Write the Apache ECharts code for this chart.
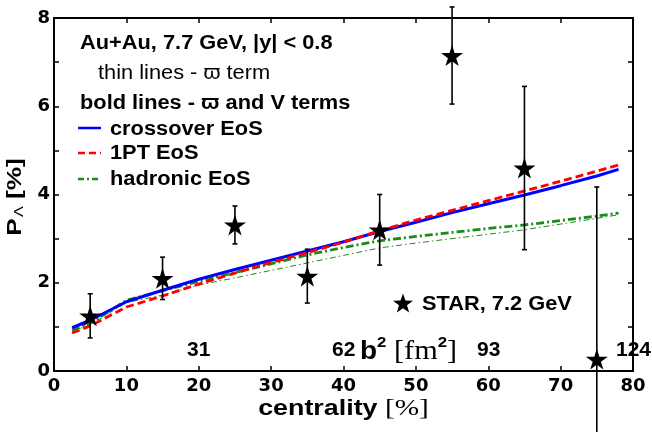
<!DOCTYPE html>
<html>
<head>
<meta charset="utf-8">
<script src="https://cdn.jsdelivr.net/npm/echarts@6/dist/echarts.min.js"></script>
<style>
  html, body { margin: 0; padding: 0; background: #fff; }
  #wrap { position: relative; width: 652px; height: 432px; }
  #chart, #frame { position: absolute; left: 0; top: 0; width: 652px; height: 432px; }
  #frame { pointer-events: none; }
</style>
</head>
<body>
<div id="wrap">
  <div id="chart"></div>
  <div id="frame"></div>
</div>
<script>
// model curves (centrality %, P_Lambda %)
const xCurve       = [2.5, 5, 10, 15, 20, 25, 30, 35, 40, 45, 50, 55, 60, 65, 70, 75, 78];
const crossover    = [0.98, 1.15, 1.57, 1.83, 2.08, 2.3, 2.51, 2.72, 2.93, 3.16, 3.37, 3.59, 3.79, 3.99, 4.2, 4.42, 4.57];
const onePT        = [0.86, 1.02, 1.45, 1.7, 1.97, 2.22, 2.46, 2.68, 2.92, 3.18, 3.42, 3.64, 3.86, 4.08, 4.3, 4.53, 4.67];
const hadronic     = [0.92, 1.08, 1.6, 1.82, 2.03, 2.23, 2.43, 2.63, 2.8, 2.95, 3.05, 3.14, 3.23, 3.31, 3.41, 3.51, 3.58];
const hadronicThin = [0.9, 1.05, 1.55, 1.72, 1.95, 2.11, 2.28, 2.45, 2.62, 2.79, 2.9, 3.0, 3.1, 3.2, 3.33, 3.46, 3.54];

// STAR data, 7.2 GeV
const starX   = [5, 15, 25, 35, 45, 55, 65, 75];
const starY   = [1.25, 2.1, 3.31, 2.15, 3.2, 7.15, 4.6, 0.27];
const starErr = [0.5, 0.48, 0.43, 0.61, 0.8, 1.1, 1.85, 3.9];

// b^2 [fm^2] labels along the bottom
const b2Labels = ['31', '62', '93', '124'];

const X_MAX = 80, Y_MAX = 8;

const pairs = (xs, ys) => xs.map((x, i) => [x, ys[i]]);
const starPath = 'path://M50,0 L61,35 L98,35 L68,57 L79,91 L50,70 L21,91 L32,57 L2,35 L39,35 Z';
const SANS = '"Liberation Sans", Arial, sans-serif';
const SERIF = '"Liberation Serif", "Times New Roman", serif';
const TICKFONT = '"DejaVu Sans", sans-serif';
const SX = 1.09;
const GRID = { left: 54, right: 19, top: 18, bottom: 61 };

function starPts(cx, cy, R) {
  const pts = [];
  for (let i = 0; i < 10; i++) {
    const r = i % 2 === 0 ? R : R * 0.4;
    const a = -Math.PI / 2 + i * Math.PI / 5;
    pts.push([cx + r * Math.cos(a), cy + r * Math.sin(a)]);
  }
  return pts;
}

const label = (x, y, text, font, sx) => ({
  type: 'text', x: x, y: y, scaleX: sx || SX, z: 10,
  style: { text: text, font: font || 'bold 20px ' + SANS, fill: '#000', textVerticalAlign: 'middle' }
});

const legendLine = (y, color, dash) => ({
  type: 'line', shape: { x1: 78, y1: y, x2: 101, y2: y },
  style: { stroke: color, lineWidth: 2.5, lineDash: dash }
});

const axisBase = () => ({
  axisLine: { show: true, onZero: false, lineStyle: { color: '#000', width: 2 } },
  axisTick: { show: true, inside: true, length: 5, lineStyle: { color: '#000', width: 1.5 } },
  splitLine: { show: false }
});

const chart = echarts.init(document.getElementById('chart'));
chart.setOption({
  animation: false,
  grid: GRID,
  xAxis: Object.assign(axisBase(), {
    type: 'value', min: 0, max: X_MAX, interval: 10,
    axisLabel: { color: '#000', fontFamily: TICKFONT, fontWeight: 'bold', fontSize: 18, margin: 6 }
  }),
  yAxis: Object.assign(axisBase(), {
    type: 'value', min: 0, max: Y_MAX, interval: 1,
    axisLabel: {
      color: '#000', fontFamily: TICKFONT, fontWeight: 'bold', fontSize: 18, margin: 4,
      formatter: v => (v % 2 === 0 ? String(v) : '')
    }
  }),
  series: [
    {
      name: 'hadronic thin', type: 'line', data: pairs(xCurve, hadronicThin),
      showSymbol: false, z: 2,
      lineStyle: { color: '#1a8a1a', width: 1, type: [6, 3, 1.5, 3] }
    },
    {
      name: 'hadronic EoS', type: 'line', data: pairs(xCurve, hadronic),
      showSymbol: false, z: 3,
      lineStyle: { color: '#1a8a1a', width: 2.8, type: [8, 3, 2, 3] }
    },
    {
      name: 'crossover EoS', type: 'line', data: pairs(xCurve, crossover),
      showSymbol: false, z: 4,
      lineStyle: { color: '#0000ff', width: 3 }
    },
    {
      name: '1PT EoS', type: 'line', data: pairs(xCurve, onePT),
      showSymbol: false, z: 5,
      lineStyle: { color: '#ff0000', width: 2.8, type: [8, 4] }
    },
    {
      name: 'STAR err', type: 'custom', z: 6,
      data: starX.map((x, i) => [x, starY[i], starErr[i]]),
      renderItem: function (params, api) {
        const x = api.value(0), y = api.value(1), e = api.value(2);
        const top = api.coord([x, y + e]);
        const bot = api.coord([x, y - e]);
        const w = 2.5;
        const st = { stroke: '#000', lineWidth: 1.6 };
        return {
          type: 'group',
          children: [
            { type: 'line', shape: { x1: top[0], y1: top[1], x2: bot[0], y2: bot[1] }, style: st },
            { type: 'line', shape: { x1: top[0] - w, y1: top[1], x2: top[0] + w, y2: top[1] }, style: st },
            { type: 'line', shape: { x1: bot[0] - w, y1: bot[1], x2: bot[0] + w, y2: bot[1] }, style: st }
          ]
        };
      }
    },
    {
      name: 'STAR', type: 'scatter', z: 7,
      data: pairs(starX, starY),
      symbol: starPath, symbolSize: [22, 21],
      itemStyle: { color: '#000', opacity: 1 }
    }
  ],
  graphic: [
    label(80, 43, 'Au+Au, 7.7 GeV, |y| < 0.8'),
    label(98, 73, 'thin lines - \u03d6 term', '20px ' + SANS),
    label(80, 103, 'bold lines - \u03d6 and V terms'),
    legendLine(128, '#0000ff', null),
    legendLine(153, '#ff0000', [7, 4]),
    legendLine(179, '#1a8a1a', [6, 3, 2, 3]),
    label(110, 129, 'crossover EoS'),
    label(110, 153, '1PT EoS'),
    label(110, 179, 'hadronic EoS'),
    { type: 'polygon', shape: { points: starPts(403, 304, 10.5) }, style: { fill: '#000' } },
    label(422, 304, 'STAR, 7.2 GeV'),
    label(187, 350, b2Labels[0], 'bold 21px ' + SANS, 1),
    label(332, 350, b2Labels[1], 'bold 21px ' + SANS, 1),
    {
      type: 'text', x: 360, y: 350, scaleX: 1.12, z: 10,
      style: {
        text: '{b|b}{s|2}{f| [fm}{s|2}{f|]}',
        textVerticalAlign: 'middle',
        rich: {
          b: { font: 'bold 25px ' + SANS, fill: '#000', lineHeight: 30, verticalAlign: 'bottom' },
          s: { font: 'bold 15px ' + SANS, fill: '#000', lineHeight: 15, verticalAlign: 'top' },
          f: { font: '27px ' + SERIF, fill: '#000', lineHeight: 30, verticalAlign: 'bottom' }
        }
      }
    },
    label(477, 350, b2Labels[2], 'bold 21px ' + SANS, 1),
    label(616, 350, b2Labels[3], 'bold 21px ' + SANS, 1),
    {
      type: 'text', x: 343.5, y: 409, scaleX: 1.22, z: 10,
      style: {
        text: '{a|centrality }{b|[%]}',
        textAlign: 'center', textVerticalAlign: 'middle',
        rich: {
          a: { font: 'bold 22px ' + SANS, fill: '#000' },
          b: { font: '24px ' + SERIF, fill: '#000' }
        }
      }
    },
    {
      type: 'text', x: 15, y: 197, rotation: Math.PI / 2, scaleX: 1.25, z: 10,
      style: {
        text: '{p|P}{s|\u039b}{p| [%]}',
        textAlign: 'center', textVerticalAlign: 'middle',
        rich: {
          p: { font: 'bold 21px ' + SANS, fill: '#000' },
          s: { font: '13px ' + SANS, fill: '#000', padding: [9, 0, 0, 1] }
        }
      }
    }
  ]
});

// top and right edges of the frame, with inward ticks, on a transparent overlay
const frame = echarts.init(document.getElementById('frame'));
frame.setOption({
  animation: false,
  backgroundColor: 'transparent',
  grid: GRID,
  xAxis: Object.assign(axisBase(), {
    type: 'value', position: 'top', min: 0, max: X_MAX, interval: 10,
    axisLabel: { show: false }
  }),
  yAxis: Object.assign(axisBase(), {
    type: 'value', position: 'right', min: 0, max: Y_MAX, interval: 1,
    axisLabel: { show: false }
  }),
  series: [{ type: 'line', data: [], silent: true }]
});
</script>
</body>
</html>
